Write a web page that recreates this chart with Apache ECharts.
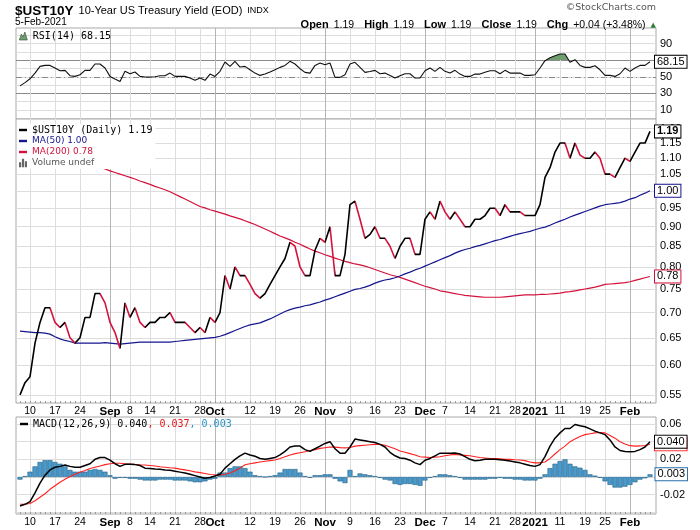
<!DOCTYPE html>
<html>
<head>
<meta charset="utf-8">
<script src="https://cdn.jsdelivr.net/npm/echarts@6/dist/echarts.min.js"></script>
<style>
  html, body { margin: 0; padding: 0; background: #fff; }
  #chart { width: 700px; height: 530px; }
</style>
</head>
<body>
<div id="chart"></div>
<script>
// daily closes, 6-Aug-2020 .. 5-Feb-2021 (trading days)
var closeVals = [0.55,0.57,0.58,0.64,0.68,0.71,0.71,0.68,0.67,0.68,
  0.65,0.64,0.65,0.69,0.69,0.74,0.74,0.72,0.68,0.66,
  0.63,0.72,0.69,0.71,0.68,0.67,0.68,0.68,0.69,0.69,
  0.70,0.68,0.68,0.68,0.67,0.66,0.67,0.66,0.69,0.68,
  0.70,0.78,0.75,0.80,0.78,0.78,0.76,0.74,0.73,0.74,
  0.76,0.78,0.80,0.82,0.86,0.85,0.80,0.78,0.78,0.84,
  0.87,0.86,0.90,0.78,0.78,0.83,0.96,0.97,0.92,0.87,
  0.88,0.90,0.87,0.87,0.85,0.82,0.85,0.87,0.87,0.83,
  0.83,0.92,0.94,0.92,0.97,0.94,0.92,0.94,0.92,0.90,
  0.90,0.92,0.92,0.93,0.95,0.95,0.93,0.96,0.94,0.94,
  0.94,0.93,0.93,0.93,0.96,1.04,1.07,1.12,1.15,1.15,
  1.10,1.15,1.11,1.10,1.10,1.12,1.10,1.05,1.05,1.04,
  1.07,1.10,1.09,1.12,1.15,1.15,1.19];

var ma50Vals = [0.663,0.662,0.661,0.660,0.660,0.659,0.657,0.652,0.648,0.645,
  0.643,0.640,0.640,0.640,0.640,0.640,0.640,0.641,0.640,0.639,
  0.638,0.639,0.640,0.641,0.642,0.642,0.642,0.642,0.642,0.642,
  0.642,0.643,0.644,0.645,0.646,0.647,0.648,0.649,0.650,0.651,
  0.653,0.656,0.660,0.664,0.668,0.672,0.675,0.677,0.679,0.683,
  0.687,0.692,0.697,0.702,0.706,0.709,0.711,0.714,0.716,0.719,
  0.722,0.726,0.729,0.733,0.737,0.741,0.745,0.749,0.751,0.754,
  0.758,0.763,0.767,0.770,0.772,0.775,0.779,0.784,0.788,0.793,
  0.797,0.802,0.807,0.812,0.817,0.822,0.827,0.833,0.838,0.842,
  0.845,0.849,0.852,0.856,0.860,0.864,0.867,0.871,0.875,0.879,
  0.882,0.885,0.888,0.892,0.896,0.899,0.904,0.910,0.915,0.920,
  0.926,0.931,0.936,0.941,0.946,0.951,0.956,0.960,0.962,0.964,
  0.966,0.970,0.976,0.980,0.987,0.993,1.000];

var ma200Vals = [1.162,1.156,1.150,1.144,1.139,1.133,1.127,1.121,1.116,1.110,
  1.104,1.099,1.093,1.088,1.082,1.077,1.071,1.066,1.060,1.055,
  1.050,1.045,1.040,1.035,1.029,1.024,1.019,1.013,1.008,1.003,
  0.997,0.990,0.983,0.976,0.969,0.962,0.955,0.951,0.946,0.942,
  0.938,0.934,0.929,0.925,0.921,0.916,0.911,0.906,0.900,0.894,
  0.888,0.882,0.876,0.871,0.866,0.860,0.855,0.849,0.843,0.838,
  0.834,0.829,0.825,0.821,0.817,0.813,0.810,0.807,0.805,0.802,
  0.798,0.794,0.790,0.786,0.782,0.779,0.776,0.772,0.768,0.764,
  0.760,0.756,0.753,0.750,0.746,0.744,0.742,0.740,0.738,0.736,
  0.735,0.734,0.733,0.732,0.732,0.732,0.732,0.733,0.734,0.735,
  0.736,0.737,0.737,0.737,0.738,0.738,0.739,0.740,0.741,0.743,
  0.744,0.746,0.748,0.750,0.752,0.754,0.757,0.760,0.761,0.762,
  0.763,0.764,0.766,0.769,0.772,0.775,0.778];

var rsiVals = [39,43,47.6,54.5,62.6,63.8,63.8,60.6,57.3,57.8,
  51.3,50.5,52.5,57.8,57.8,65.5,65.5,60.6,50.5,47.3,
  44.4,56.6,53.7,55.8,50.5,49.7,49.7,50,51.3,51.3,
  54.5,50.5,50.5,50.5,48.5,45.7,48.5,45.7,53.3,50.5,
  56.6,67.9,62.6,68.7,61.8,62.6,58.5,54.5,51.7,53.3,
  55.8,58.5,61.4,63.8,68.7,65.5,59.8,55.4,54.5,63.8,
  66.7,64.6,66.7,49.3,49.3,52.5,65.5,67.5,61.5,55.4,
  56.5,57.8,53.7,54.5,51.7,48.5,51.3,53.7,53.7,48.5,
  48.5,57.3,60.6,56.6,61.4,56.6,54.5,57.8,53.3,50.5,
  50.5,53.3,53.3,55.4,57.3,57.3,53.7,57.8,54.5,54.5,
  54.5,51.7,51.7,52.5,60.6,69.5,73,75.5,77.6,77.6,
  67.5,70.7,63.8,61.4,61.4,63.4,58.5,51.7,51.7,50.5,
  53.7,60.6,56.6,60.6,63.8,63.8,68.15];

var macdVals = [-0.033,-0.031,-0.028,-0.018,-0.007,0.002,0.008,0.011,0.012,0.0135,
  0.012,0.011,0.011,0.013,0.015,0.020,0.022,0.022,0.019,0.015,
  0.012,0.0143,0.0143,0.014,0.013,0.010,0.0095,0.009,0.0087,0.008,
  0.0075,0.0065,0.0055,0.0045,0.003,0.0015,0.000,-0.0015,-0.0005,0.001,
  0.003,0.010,0.015,0.020,0.024,0.027,0.025,0.0235,0.021,0.020,
  0.021,0.022,0.025,0.029,0.034,0.035,0.035,0.031,0.029,0.032,
  0.035,0.038,0.040,0.032,0.027,0.027,0.034,0.043,0.042,0.041,
  0.040,0.039,0.037,0.034,0.028,0.024,0.0215,0.021,0.019,0.016,
  0.014,0.019,0.021,0.024,0.027,0.027,0.027,0.0272,0.026,0.023,
  0.020,0.0185,0.019,0.020,0.020,0.020,0.0195,0.019,0.018,0.017,
  0.016,0.0145,0.013,0.012,0.014,0.023,0.035,0.044,0.050,0.055,
  0.055,0.0595,0.058,0.057,0.0545,0.052,0.050,0.048,0.042,0.034,
  0.030,0.029,0.0285,0.029,0.031,0.034,0.040];

var signalVals = [-0.031,-0.031,-0.030,-0.027,-0.023,-0.019,-0.014,-0.010,-0.006,-0.0025,
  0.0005,0.003,0.0053,0.0073,0.0095,0.011,0.0125,0.014,0.015,0.0155,
  0.0155,0.015,0.0146,0.0142,0.0138,0.0135,0.013,0.0125,0.0116,0.011,
  0.0104,0.010,0.0089,0.008,0.007,0.0058,0.0049,0.004,0.0028,0.0025,
  0.0023,0.003,0.0045,0.007,0.010,0.0138,0.015,0.016,0.017,0.0178,
  0.0185,0.0192,0.021,0.023,0.025,0.0265,0.0275,0.0285,0.030,0.031,
  0.0324,0.0332,0.034,0.0338,0.0333,0.033,0.0334,0.035,0.0355,0.036,
  0.0365,0.037,0.037,0.036,0.034,0.032,0.0295,0.028,0.0265,0.025,
  0.023,0.0225,0.022,0.0225,0.023,0.024,0.025,0.0255,0.025,0.0245,
  0.024,0.023,0.022,0.0215,0.021,0.021,0.0205,0.020,0.020,0.0195,
  0.0192,0.0185,0.017,0.016,0.016,0.017,0.021,0.026,0.031,0.035,
  0.040,0.043,0.046,0.048,0.049,0.050,0.0505,0.050,0.047,0.044,
  0.040,0.0375,0.0355,0.035,0.0352,0.0357,0.037];

var histVals = [-0.003,0.001,0.006,0.012,0.017,0.019,0.019,0.017,0.015,0.012,
  0.008,0.006,0.006,0.006,0.008,0.009,0.008,0.006,0.002,-0.002,
  -0.001,-0.001,-0.002,-0.002,-0.003,-0.004,-0.004,-0.004,-0.003,-0.003,
  -0.003,-0.004,-0.004,-0.004,-0.005,-0.006,-0.006,-0.005,-0.003,-0.002,
  0.005,0.005,0.010,0.012,0.012,0.010,0.006,0.002,0.001,0.000,
  0.001,0.002,0.005,0.009,0.009,0.009,0.005,0.001,-0.001,0.002,
  0.002,0.003,0.003,-0.002,-0.005,-0.007,0.008,0.001,0.004,0.003,
  0.002,0.001,-0.001,-0.003,-0.004,-0.008,-0.009,-0.008,-0.008,-0.009,
  -0.010,-0.004,-0.001,0.001,0.003,0.003,0.002,0.001,-0.001,-0.003,
  -0.003,-0.003,-0.003,-0.003,-0.002,-0.002,-0.001,-0.002,-0.002,-0.003,
  -0.003,-0.004,-0.004,-0.004,-0.002,0.003,0.010,0.015,0.018,0.020,
  0.015,0.012,0.0105,0.008,0.003,0.0015,-0.001,-0.005,-0.009,-0.012,
  -0.012,-0.011,-0.009,-0.006,-0.003,-0.0015,0.003];

// x-axis: label positions (trading-day index) and texts
var tickIdx = [2,7,12,18,22,26,31,36,39,46,51,56,61,66,71,76,81,85,90,95,99,103,108,113,117,122];
var tickText = ['10','17','24','Sep','8','14','21','28','Oct','12','19','26','Nov','9','16','23','Dec','7','14','21','28','2021','11','19','25','Feb'];
var monthIdx = [18,39,61,81,103,122];
var weekIdx = [2,7,12,22,26,31,36,41,46,51,56,66,71,76,85,90,95,99,108,113,117];

// y-axis ticks
var rsiGrid = [10,20,30,40,50,60,70,80,90,100];
var rsiLabels = [10,30,50,70,90];
var mainTicks = [0.55,0.60,0.65,0.70,0.75,0.80,0.85,0.90,0.95,1.00,1.05,1.10,1.15,1.20];
var macdTicks = [-0.04,-0.02,0,0.02,0.04,0.06];

var FONT = "'Liberation Sans', Arial, sans-serif";
var MONO = "'DejaVu Sans Mono', monospace";
var DEJA = "'DejaVu Sans', Verdana, sans-serif";
var RED = '#d3123c', NAVY = '#15158f', SIG = '#ff2020', BAR = '#4a9bcb';
var LIGHT = '#dddddd', DARK = '#b5b5b5', FRAME = '#a8a8a8';

var N = closeVals.length;
var xMin = -0.8, xMax = N + 0.2;
var allIdx = closeVals.map(function (v, i) { return i; });
function pair(a) { return a.map(function (v, i) { return [i, v]; }); }
function last(a) { return a[a.length - 1]; }

// red where the close fell from the day before
var downPieces = [];
for (var i = 1; i < N; i++) {
  if (closeVals[i] < closeVals[i - 1]) downPieces.push({ gt: i - 1, lte: i, color: RED });
}

var prev = closeVals[N - 2], cls = last(closeVals);
var chg = cls - prev;
var chgTxt = (chg >= 0 ? '+' : '') + chg.toFixed(2) + ' (' + (chg >= 0 ? '+' : '') + (chg / prev * 100).toFixed(2) + '%)';

var priceName = '$UST10Y (Daily) ' + cls.toFixed(2);
var ma50Name = 'MA(50) ' + last(ma50Vals).toFixed(2);
var ma200Name = 'MA(200) ' + last(ma200Vals).toFixed(2);
var rsiName = 'RSI(14) ' + last(rsiVals).toFixed(2);
var macdName = 'MACD(12,26,9)';

var LINE_ICON = 'path://M0,0h10v3h-10z';
var VOL_ICON = 'path://M0,10V4h2.6v6zM3.5,10V0h2.6v10zM7,10V3h2.6v7z';
var RSI_ICON = 'path://M0,10L2.6,2.5L4.6,6.2L7,0L10,10Z';

function badge(border, digits, bold) {
  return {
    show: true, distance: 5,
    formatter: function (p) { return p.value[1].toFixed(digits); },
    color: '#000', fontFamily: FONT, fontSize: 11, fontWeight: bold ? 'bold' : 'normal',
    backgroundColor: '#fff', borderColor: border, borderWidth: 1, padding: [1, 2, 0, 2]
  };
}

function lineAxis(g, idx, color) {
  return {
    type: 'value', gridIndex: g, min: xMin, max: xMax,
    axisLine: { show: false }, axisLabel: { show: false },
    axisTick: { show: false, customValues: idx },
    splitLine: { show: true, lineStyle: { color: color, width: 1 } }
  };
}

function labelAxis(g) {
  return {
    type: 'value', gridIndex: g, min: xMin, max: xMax, position: 'bottom',
    axisLine: { show: false },
    axisTick: { show: true, inside: true, length: 2, customValues: allIdx, lineStyle: { color: '#999' } },
    splitLine: { show: false },
    axisLabel: {
      show: true, customValues: tickIdx, margin: 3,
      fontFamily: FONT, fontSize: 10.5, color: '#000',
      formatter: function (v) {
        var k = tickIdx.indexOf(Math.round(v));
        if (k < 0) return '';
        return monthIdx.indexOf(tickIdx[k]) >= 0 ? '{b|' + tickText[k] + '}' : tickText[k];
      },
      rich: { b: { fontFamily: FONT, fontWeight: 'bold', fontSize: 11.5, color: '#000' } }
    }
  };
}

function yAx(g, type, min, max, grid, labels, color, dash, fmt) {
  return {
    type: type, gridIndex: g, position: 'right', min: min, max: max,
    logBase: 10,
    axisLine: { show: false },
    axisTick: { show: false, customValues: grid },
    splitLine: { show: true, lineStyle: { color: color, type: dash || 'solid' } },
    axisLabel: labels ? {
      show: true, customValues: labels, margin: 4, fontFamily: FONT, fontSize: 11, color: '#000',
      formatter: fmt
    } : { show: false }
  };
}

var chart = echarts.init(document.getElementById('chart'));
chart.setOption({
  animation: false,
  backgroundColor: '#fff',
  title: [
    { left: 15, top: 2, padding: 0,
      text: '{a|$UST10Y} {b|10-Year US Treasury Yield (EOD)} {c|INDX}',
      textStyle: { rich: {
        a: { fontFamily: FONT, fontWeight: 'bold', fontSize: 13.5, color: '#000' },
        b: { fontFamily: FONT, fontWeight: 'normal', fontSize: 11, color: '#000' },
        c: { fontFamily: FONT, fontWeight: 'normal', fontSize: 9, color: '#000' } } } },
    { left: 15, top: 17, padding: 0, text: '5-Feb-2021',
      textStyle: { fontFamily: FONT, fontSize: 10, fontWeight: 'normal', color: '#000' } },
    { right: 44, top: 3, padding: 0, text: '\u00a9StockCharts.com',
      textStyle: { fontFamily: DEJA, fontSize: 9.5, fontWeight: 'normal', color: '#555' } },
    { right: 44, top: 16, padding: 0,
      text: '{k|Open} {v|' + cls.toFixed(2) + '}  {k|High} {v|' + cls.toFixed(2) + '}  {k|Low} {v|' + cls.toFixed(2) +
            '}  {k|Close} {v|' + cls.toFixed(2) + '}  {k|Chg} {v|' + chgTxt + '} {t|\u25b2}',
      textStyle: { rich: {
        k: { fontFamily: FONT, fontWeight: 'bold', fontSize: 11, color: '#000' },
        v: { fontFamily: FONT, fontWeight: 'normal', fontSize: 10.5, color: '#000' },
        t: { fontFamily: DEJA, fontWeight: 'normal', fontSize: 7, color: '#2e7d32' } } } }
  ],
  legend: [
    { left: 17, top: 124, orient: 'vertical', itemWidth: 8, itemHeight: 9, itemGap: 1,
      backgroundColor: '#fff', padding: [1, 3, 1, 2], selectedMode: false,
      textStyle: { fontFamily: DEJA, fontSize: 9, lineHeight: 10 },
      data: [
        { name: priceName, icon: LINE_ICON, itemStyle: { color: '#000' }, textStyle: { fontFamily: MONO, fontSize: 10, color: '#000' } },
        { name: ma50Name, icon: LINE_ICON, itemStyle: { color: NAVY }, textStyle: { color: NAVY } },
        { name: ma200Name, icon: LINE_ICON, itemStyle: { color: RED }, textStyle: { color: RED } },
        { name: 'Volume undef', icon: VOL_ICON, itemStyle: { color: '#666' }, textStyle: { color: '#555' } }
      ] },
    { left: 17, top: 30, itemWidth: 9, itemHeight: 8, padding: [1, 2, 1, 2], selectedMode: false,
      textStyle: { fontFamily: MONO, fontSize: 10, color: '#000' },
      data: [{ name: rsiName, icon: RSI_ICON, itemStyle: { color: '#6f9f6f', borderColor: '#2e4f2e', borderWidth: 0.6 } }] },
    { left: 18, top: 418, itemWidth: 8, itemHeight: 9, padding: [1, 2, 1, 2], selectedMode: false,
      formatter: function (name) {
        return '{k|' + name + ' ' + last(macdVals).toFixed(3) + '}{r|, ' + last(signalVals).toFixed(3) + '}{s|, ' + last(histVals).toFixed(3) + '}';
      },
      textStyle: { fontFamily: MONO, fontSize: 10, rich: {
        k: { fontFamily: MONO, fontSize: 10, color: '#000' },
        r: { fontFamily: MONO, fontSize: 10, color: '#e8141a' },
        s: { fontFamily: MONO, fontSize: 10, color: '#2a93c9' } } },
      data: [{ name: macdName, icon: LINE_ICON, itemStyle: { color: '#000' } }] }
  ],
  grid: [
    { left: 16, right: 44, top: 28, height: 91, show: true, borderColor: FRAME, borderWidth: 1, backgroundColor: '#fff' },
    { left: 16, right: 44, top: 119, height: 284, show: true, borderColor: FRAME, borderWidth: 1, backgroundColor: '#fff' },
    { left: 16, right: 44, top: 417, height: 97, show: true, borderColor: FRAME, borderWidth: 1, backgroundColor: '#fff' }
  ],
  xAxis: [
    lineAxis(0, weekIdx, LIGHT), lineAxis(0, monthIdx, DARK),
    lineAxis(1, weekIdx, LIGHT), lineAxis(1, monthIdx, DARK), labelAxis(1),
    lineAxis(2, weekIdx, LIGHT), lineAxis(2, monthIdx, DARK), labelAxis(2)
  ],
  yAxis: [
    yAx(0, 'value', -1, 109, rsiGrid, rsiLabels, LIGHT),
    yAx(0, 'value', -1, 109, [30, 70], null, '#8a8a8a'),
    yAx(0, 'value', -1, 109, [50], null, '#8a8a8a', [6, 3, 1, 3]),
    yAx(1, 'log', 0.537, 1.234, mainTicks, mainTicks, LIGHT, null, function (v) { return v.toFixed(2); }),
    yAx(2, 'value', -0.042, 0.068, macdTicks, [-0.02, 0, 0.02, 0.04, 0.06], LIGHT, null, function (v) { return v.toFixed(2); })
  ],
  visualMap: [
    { type: 'piecewise', show: false, seriesIndex: 0, dimension: 1,
      pieces: [{ gte: -5, lte: 70, color: 'rgba(255,255,255,0)' }, { gt: 70, lte: 115, color: '#6f9f6f' }],
      outOfRange: { color: 'rgba(255,255,255,0)' } },
    { type: 'piecewise', show: false, seriesIndex: 4, dimension: 0,
      pieces: downPieces, outOfRange: { color: '#000' } }
  ],
  series: [
    { type: 'line', xAxisIndex: 0, yAxisIndex: 0, data: pair(rsiVals), symbol: 'none', silent: true,
      lineStyle: { opacity: 0 }, areaStyle: { origin: 70, opacity: 1 }, z: 1 },
    { name: rsiName, type: 'line', xAxisIndex: 0, yAxisIndex: 0, data: pair(rsiVals), symbol: 'none',
      lineStyle: { color: '#111', width: 1.1 }, itemStyle: { color: '#111' }, endLabel: badge('#000', 2) },
    { name: ma200Name, type: 'line', xAxisIndex: 2, yAxisIndex: 3, data: pair(ma200Vals), symbol: 'none',
      lineStyle: { color: RED, width: 1.2 }, itemStyle: { color: RED }, endLabel: badge(RED, 2) },
    { name: ma50Name, type: 'line', xAxisIndex: 2, yAxisIndex: 3, data: pair(ma50Vals), symbol: 'none',
      lineStyle: { color: NAVY, width: 1.2 }, itemStyle: { color: NAVY }, endLabel: badge(NAVY, 2) },
    { name: priceName, type: 'line', xAxisIndex: 2, yAxisIndex: 3, data: pair(closeVals), symbol: 'none',
      lineStyle: { width: 1.6 }, endLabel: badge('#000', 2, true), z: 3 },
    { name: 'Volume undef', type: 'bar', xAxisIndex: 2, yAxisIndex: 3, data: [], itemStyle: { color: '#666' } },
    { name: 'hist', type: 'bar', xAxisIndex: 5, yAxisIndex: 4, data: pair(histVals), barWidth: 5,
      itemStyle: { color: BAR, borderColor: '#215f88', borderWidth: 0.6 },
      markPoint: {
        symbol: 'rect', symbolSize: [1, 1], itemStyle: { color: 'rgba(0,0,0,0)' },
        label: { show: true, position: 'right', distance: 5, formatter: function (p) { return p.value.toFixed(3); },
          color: '#000', fontFamily: FONT, fontSize: 11, backgroundColor: '#fff',
          borderColor: '#2a6fa8', borderWidth: 1, padding: [1, 2, 0, 2] },
        data: [{ coord: [N - 1, last(histVals)], value: last(histVals) }]
      } },
    { name: 'signal', type: 'line', xAxisIndex: 5, yAxisIndex: 4, data: pair(signalVals), symbol: 'none',
      lineStyle: { color: SIG, width: 1.1 }, itemStyle: { color: SIG }, endLabel: badge(SIG, 3) },
    { name: macdName, type: 'line', xAxisIndex: 5, yAxisIndex: 4, data: pair(macdVals), symbol: 'none',
      lineStyle: { color: '#000', width: 1.5 }, itemStyle: { color: '#000' }, endLabel: badge('#000', 3) }
  ]
});
</script>
</body>
</html>
